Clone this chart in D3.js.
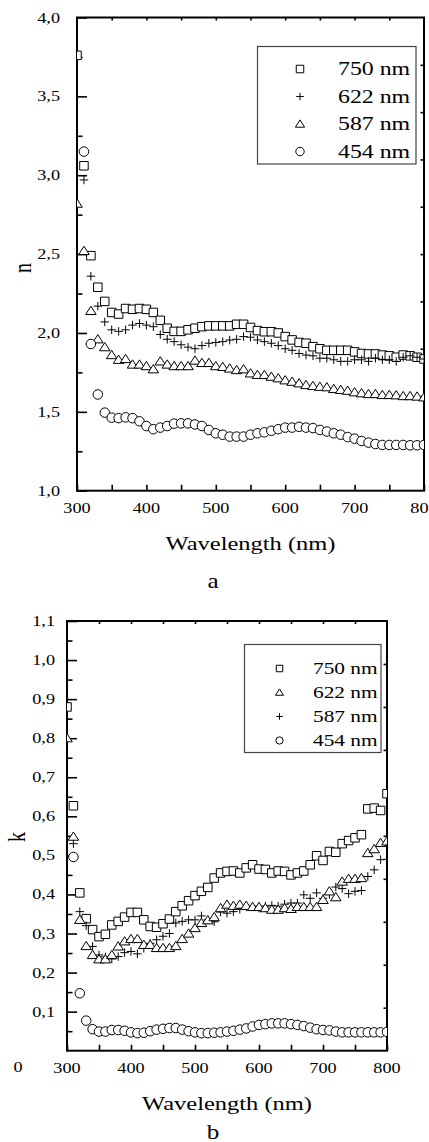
<!DOCTYPE html>
<html>
<head>
<meta charset="utf-8">
<script src="https://cdn.jsdelivr.net/npm/d3@7"></script>
<style>
  body { margin: 0; background: #fff; }
  svg { display: block; }
  text { font-family: "Liberation Serif", "Times New Roman", Times, serif; fill: #000; }
</style>
</head>
<body>
<svg width="429" height="1142"></svg>
<script>
// Wavelength grid (nm)
var wavelengths = [300, 310, 320, 330, 340, 350, 360, 370, 380, 390,
  400, 410, 420, 430, 440, 450, 460, 470, 480, 490,
  500, 510, 520, 530, 540, 550, 560, 570, 580, 590,
  600, 610, 620, 630, 640, 650, 660, 670, 680, 690,
  700, 710, 720, 730, 740, 750, 760, 770, 780, 790, 800];

// Panel a: refractive index n
var n750 = [3.76, 3.06, 2.49, 2.29, 2.20, 2.13, 2.12, 2.155, 2.15, 2.155,
  2.15, 2.13, 2.08, 2.03, 2.01, 2.01, 2.02, 2.03, 2.04, 2.045,
  2.045, 2.045, 2.045, 2.055, 2.055, 2.035, 2.015, 2.008, 2.008, 2.0,
  1.977, 1.956, 1.94, 1.935, 1.913, 1.90, 1.89, 1.89, 1.89, 1.89,
  1.88, 1.87, 1.867, 1.867, 1.86, 1.855, 1.846, 1.86, 1.855, 1.846, 1.835];
var n622 = [null, 2.97, 2.36, 2.17, 2.07, 2.02, 2.01, 2.02, 2.05, 2.06,
  2.05, 2.04, 1.99, 1.96, 1.945, 1.925, 1.91, 1.90, 1.92, 1.935,
  1.94, 1.945, 1.955, 1.96, 1.977, 1.973, 1.956, 1.945, 1.935, 1.92,
  1.90, 1.89, 1.87, 1.86, 1.855, 1.84, 1.84, 1.83, 1.82, 1.82,
  1.83, 1.83, 1.82, 1.84, 1.83, 1.83, 1.82, 1.846, 1.855, 1.846, 1.835];
var n587 = [2.82, 2.52, 2.14, 1.96, 1.91, 1.86, 1.83, 1.835, 1.80, 1.80,
  1.79, 1.77, 1.82, 1.80, 1.79, 1.79, 1.79, 1.825, 1.81, 1.81,
  1.79, 1.785, 1.775, 1.765, 1.77, 1.744, 1.734, 1.734, 1.723, 1.713,
  1.70, 1.691, 1.681, 1.67, 1.664, 1.659, 1.656, 1.645, 1.639, 1.634,
  1.624, 1.618, 1.613, 1.613, 1.607, 1.607, 1.605, 1.60, 1.60, 1.597, 1.592];
var n454 = [null, 3.15, 1.93, 1.61, 1.495, 1.463, 1.46, 1.465, 1.46, 1.44,
  1.41, 1.39, 1.40, 1.41, 1.425, 1.427, 1.427, 1.42, 1.41, 1.385,
  1.364, 1.355, 1.343, 1.343, 1.343, 1.355, 1.364, 1.37, 1.38, 1.39,
  1.40, 1.40, 1.405, 1.40, 1.397, 1.385, 1.375, 1.364, 1.355, 1.34,
  1.33, 1.315, 1.305, 1.296, 1.29, 1.29, 1.29, 1.29, 1.288, 1.288, 1.29];

// Panel b: extinction coefficient k
var k750 = [0.88, 0.627, 0.404, 0.338, 0.31, 0.292, 0.298, 0.322, 0.331, 0.342,
  0.354, 0.354, 0.335, 0.318, 0.316, 0.325, 0.337, 0.356, 0.371, 0.384,
  0.397, 0.408, 0.418, 0.442, 0.455, 0.459, 0.46, 0.455, 0.468, 0.476,
  0.465, 0.464, 0.455, 0.46, 0.459, 0.45, 0.455, 0.46, 0.476, 0.499,
  0.487, 0.51, 0.508, 0.53, 0.538, 0.545, 0.553, 0.619, 0.621, 0.615, 0.658];
var k622 = [0.80, 0.548, 0.335, 0.268, 0.245, 0.234, 0.234, 0.245, 0.267, 0.28,
  0.286, 0.286, 0.271, 0.271, 0.263, 0.263, 0.263, 0.268, 0.286, 0.30,
  0.314, 0.327, 0.334, 0.342, 0.365, 0.374, 0.371, 0.374, 0.371, 0.368,
  0.368, 0.365, 0.361, 0.361, 0.365, 0.363, 0.368, 0.368, 0.368, 0.368,
  0.386, 0.408, 0.393, 0.433, 0.44, 0.44, 0.442, 0.506, 0.516, 0.532, 0.536];
var k587 = [null, 0.53, 0.356, 0.32, 0.267, 0.245, 0.24, 0.235, 0.241, 0.251,
  0.254, 0.248, 0.262, 0.275, 0.284, 0.293, 0.30, 0.327, 0.331, 0.335,
  0.335, 0.345, 0.335, 0.33, 0.355, 0.352, 0.356, 0.362, 0.368, 0.37,
  0.365, 0.37, 0.372, 0.37, 0.375, 0.378, 0.378, 0.399, 0.39, 0.404,
  0.39, 0.40, 0.419, 0.415, 0.402, 0.408, 0.41, 0.446, 0.463, 0.489, 0.49];
var k454 = [null, 0.496, 0.147, 0.077, 0.055, 0.049, 0.049, 0.053, 0.053, 0.051,
  0.047, 0.045, 0.046, 0.05, 0.054, 0.056, 0.058, 0.058, 0.054, 0.05,
  0.047, 0.045, 0.045, 0.046, 0.047, 0.049, 0.051, 0.054, 0.057, 0.062,
  0.066, 0.068, 0.07, 0.07, 0.07, 0.068, 0.066, 0.063, 0.059, 0.055,
  0.053, 0.052, 0.049, 0.047, 0.047, 0.047, 0.047, 0.047, 0.047, 0.047, 0.048];

// Ticks and labels
var xTicks = [300, 400, 500, 600, 700, 800];
var xMinorTicks = [350, 450, 550, 650, 750];
var nTicks = [1.0, 1.5, 2.0, 2.5, 3.0, 3.5, 4.0];
var nMinorTicks = [1.25, 1.75, 2.25, 2.75, 3.25, 3.75];
var kTicks = [0.1, 0.2, 0.3, 0.4, 0.5, 0.6, 0.7, 0.8, 0.9, 1.0, 1.1];
var kMinorTicks = [0.05, 0.15, 0.25, 0.35, 0.45, 0.55, 0.65, 0.75, 0.85, 0.95, 1.05];
var rightDivisions = [1, 2, 3, 4, 5, 6, 7, 8, 9];

var labelsA = ["750 nm", "622 nm", "587 nm", "454 nm"];
var symbolsA = ["square", "plus", "triangle", "circle"];
var labelsB = ["750 nm", "622 nm", "587 nm", "454 nm"];
var symbolsB = ["square", "triangle", "plus", "circle"];

var svg = d3.select("svg");
var commaFmt = d3.formatLocale({decimal: ",", thousands: " ", grouping: [3], currency: ["", ""]}).format(".1f");

// the original figure is set wide; measure the font and stretch so the
// x-axis title gets its width from the picture (about 170 px at 19.5 px)
var probe = svg.append("text").style("font-size", "19.5px").text("Wavelength (nm)");
var stretch = 170 / probe.node().getComputedTextLength();
probe.remove();

function symbolPath(type, s) {
  var h = s / 2;
  if (type == "square") return "M" + (-h) + "," + (-h) + "h" + s + "v" + s + "h" + (-s) + "Z";
  if (type == "plus") return "M" + (-h) + ",0H" + h + "M0," + (-h) + "V" + h;
  if (type == "triangle") {
    var w = s * 0.62;
    return "M0," + (-h * 1.1) + "L" + w + "," + (h * 0.85) + "L" + (-w) + "," + (h * 0.85) + "Z";
  }
  var r = s * 0.56;
  return "M" + r + ",0A" + r + "," + r + " 0 1,1 " + (-r) + ",0A" + r + "," + r + " 0 1,1 " + r + ",0Z";
}

function addText(g, x, y, str, size, anchor) {
  return g.append("text")
    .attr("transform", "translate(" + x + "," + y + ") scale(" + stretch + ",1)")
    .attr("text-anchor", anchor || "start")
    .style("font-size", size + "px")
    .text(str);
}

function drawPanel(p) {
  var g = svg.append("g");
  var x = d3.scaleLinear().domain([300, 800]).range([p.left, p.right]);
  var y = d3.scaleLinear().domain(p.yDomain).range([p.bottom, p.top]);
  var yRight = d3.scaleLinear().domain([0, 10]).range([p.bottom, p.top]);

  // ticks (inward)
  g.append("g").attr("transform", "translate(" + p.left + ",0)")
    .call(d3.axisLeft(y).tickValues(p.yTicks).tickSize(-10).tickFormat(""));
  g.append("g").attr("transform", "translate(" + p.left + ",0)")
    .call(d3.axisLeft(y).tickValues(p.yMinor).tickSize(-5.5).tickFormat(""));
  g.append("g").attr("transform", "translate(0," + p.bottom + ")")
    .call(d3.axisBottom(x).tickValues(xTicks.concat(xMinorTicks)).tickSize(-6).tickFormat(""));
  g.append("g").attr("transform", "translate(" + p.right + ",0)")
    .call(d3.axisRight(yRight).tickValues(rightDivisions).tickSize(-3.5).tickFormat(""));
  g.append("g").attr("transform", "translate(0," + p.top + ")")
    .call(d3.axisTop(x).tickValues(xMinorTicks.concat([400, 500, 600, 700])).tickSize(-3).tickFormat(""));
  g.selectAll(".domain").remove();
  g.selectAll(".tick line").attr("stroke", "#000").attr("stroke-width", 1.6);

  // tick labels
  p.yTicks.forEach(function(v) {
    addText(g, p.left - p.labelGap, y(v) + 5, commaFmt(v), 14.5, "end");
  });
  xTicks.forEach(function(v) {
    addText(g, x(v), p.bottom + 22, v, 14.5, "middle");
  });

  // frame
  g.append("rect")
    .attr("x", p.left).attr("y", p.top)
    .attr("width", p.right - p.left).attr("height", p.bottom - p.top)
    .attr("fill", "none").attr("stroke", "#000").attr("stroke-width", 2);

  // data
  g.append("clipPath").attr("id", p.id + "clip")
    .append("rect")
    .attr("x", p.left).attr("y", p.top)
    .attr("width", p.right - p.left).attr("height", p.bottom - p.top);
  var marks = g.append("g").attr("clip-path", "url(#" + p.id + "clip)");
  p.series.forEach(function(s) {
    marks.append("g").selectAll("path")
      .data(wavelengths.map(function(w, i) { return [w, s.values[i]]; })
        .filter(function(d) { return d[1] != null; }))
      .enter().append("path")
      .attr("transform", function(d) { return "translate(" + x(d[0]) + "," + y(d[1]) + ")"; })
      .attr("d", symbolPath(s.symbol, 8.5))
      .attr("fill", s.symbol == "plus" ? "none" : "#fff")
      .attr("stroke", "#000")
      .attr("stroke-width", 1);
  });

  // legend
  var lg = g.append("g");
  lg.append("rect")
    .attr("x", p.legend.x).attr("y", p.legend.y)
    .attr("width", p.legend.w).attr("height", p.legend.h)
    .attr("fill", "#fff").attr("stroke", "#444").attr("stroke-width", 1.2);
  p.legend.labels.forEach(function(lab, i) {
    var cy = p.legend.y + p.legend.first + i * p.legend.step;
    lg.append("path")
      .attr("transform", "translate(" + p.legend.symX + "," + cy + ")")
      .attr("d", symbolPath(p.legend.symbols[i], p.legend.symSize))
      .attr("fill", "none").attr("stroke", "#000").attr("stroke-width", 1);
    addText(lg, p.legend.textX, cy + p.legend.size * 0.34, lab, p.legend.size, "start");
  });

  // titles
  addText(g, (p.left + p.right) / 2, p.bottom + 59, "Wavelength (nm)", 19.5, "middle");
  g.append("text")
    .attr("transform", "translate(" + p.yLabelX + "," + p.yLabelY + ") rotate(-90) scale(1," + stretch + ")")
    .attr("text-anchor", "middle")
    .style("font-size", "20px")
    .text(p.yLabel);
  addText(g, p.tagX, p.tagY, p.tag, 20, "middle");
}

drawPanel({
  id: "a", left: 77, right: 424, top: 17.5, bottom: 490.7,
  yDomain: [1, 4], yTicks: nTicks, yMinor: nMinorTicks, labelGap: 17,
  series: [
    {values: n750, symbol: "square"},
    {values: n622, symbol: "plus"},
    {values: n587, symbol: "triangle"},
    {values: n454, symbol: "circle"}
  ],
  legend: {x: 257.5, y: 46.5, w: 158.5, h: 117.5, first: 22.5, step: 27.5,
    symX: 300, symSize: 7.5, textX: 338, size: 19, labels: labelsA, symbols: symbolsA},
  yLabel: "n", yLabelX: 31, yLabelY: 268, tag: "a", tagX: 213, tagY: 588
});

drawPanel({
  id: "b", left: 67, right: 387, top: 621, bottom: 1050.7,
  yDomain: [0, 1.1], yTicks: kTicks, yMinor: kMinorTicks, labelGap: 12,
  series: [
    {values: k750, symbol: "square"},
    {values: k587, symbol: "plus"},
    {values: k622, symbol: "triangle"},
    {values: k454, symbol: "circle"}
  ],
  legend: {x: 244.5, y: 644.5, w: 136.5, h: 108, first: 24, step: 24,
    symX: 279.5, symSize: 6.5, textX: 313, size: 17, labels: labelsB, symbols: symbolsB},
  yLabel: "k", yLabelX: 25, yLabelY: 837, tag: "b", tagX: 213, tagY: 1139
});

// stray zero label at the bottom-left of panel b
addText(svg, 18, 1072, "0", 14.5, "middle");
</script>
</body>
</html>
